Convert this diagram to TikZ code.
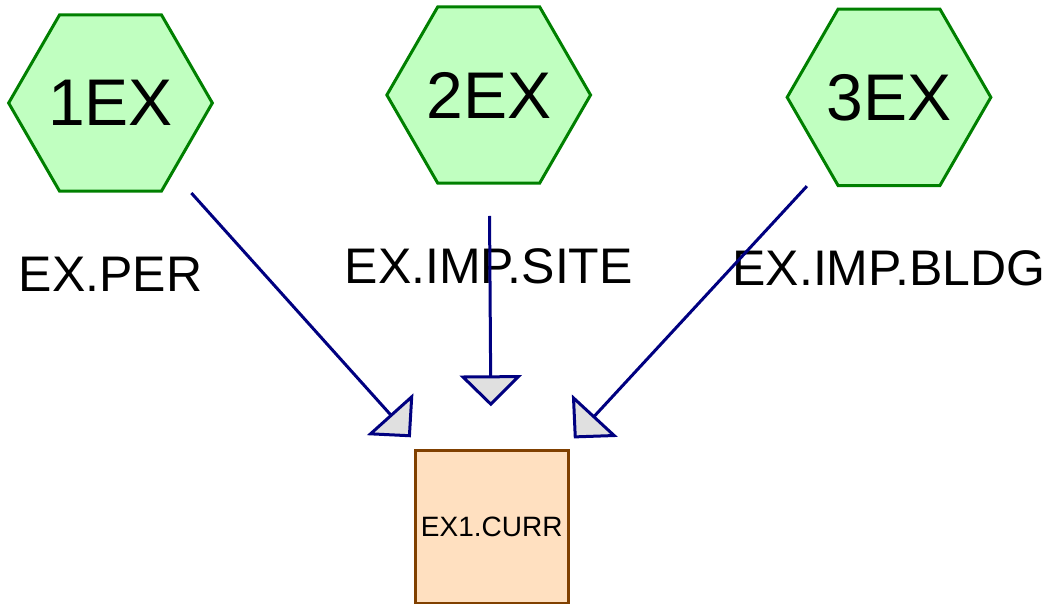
\documentclass[tikz,border=0pt]{standalone}
\usepackage{fontspec}
\setmainfont{Liberation Sans}
\usepackage{tikz}
\usetikzlibrary{shapes.geometric,arrows.meta,positioning,calc}
\definecolor{hexfill}{HTML}{C0FFC0}
\definecolor{hexdraw}{HTML}{008000}
\definecolor{boxfill}{HTML}{FFE0C0}
\definecolor{boxdraw}{HTML}{804000}
\definecolor{linkblue}{HTML}{000080}
\definecolor{tipgray}{HTML}{E0E0E0}

\begin{document}
\begin{tikzpicture}[x=1pt,y=-1pt,
  hex/.style={regular polygon,regular polygon sides=6,minimum size=203pt,inner sep=0pt,
    draw=hexdraw,fill=hexfill,line width=3pt,font=\fontsize{66}{79}\selectfont},
  lbl/.style={inner sep=0pt,font=\fontsize{50}{60}\selectfont},
  curr/.style={rectangle,minimum size=153pt,inner sep=0pt,draw=boxdraw,fill=boxfill,
    line width=3pt,font=\fontsize{28}{34}\selectfont},
  link/.style={draw=linkblue,line width=3pt,
    -{Triangle[length=31pt,width=62pt,fill=tipgray]}}]
\useasboundingbox (0,0) rectangle (1056,604);
\node [hex] (a) at (110.5,103) {\raisebox{-2.5pt}{1EX}};
\node [hex] (b) at (488.7,95) {\raisebox{-2.5pt}{2EX}};
\node [hex] (c) at (889,97.3) {\raisebox{-2.5pt}{3EX}};
\node [curr] (z) at (491.7,527.3) {EX1.CURR};
\node [lbl, below=171pt of a.center, anchor=center] (pa) {EX.PER};
\node [lbl, below=171pt of b.center, anchor=center] (pb) {EX.IMP.SITE};
\node [lbl, below=171pt of c.center, anchor=center] (pc) {EX.IMP.BLDG};
% links
\draw [link] ($(a.center)!121pt!(z.center)$) -- ($(z.center)!121pt!(a.center)$);
\draw [link] ($(b.center)!121pt!(z.center)$) -- ($(z.center)!121pt!(b.center)$);
\draw [link] ($(c.center)!121pt!(z.center)$) -- ($(z.center)!121pt!(c.center)$);
\end{tikzpicture}
\end{document}
